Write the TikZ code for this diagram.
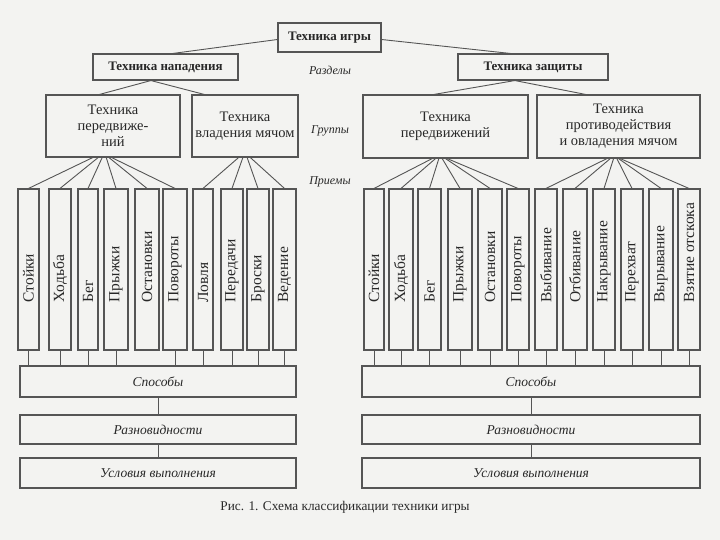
\documentclass[tikz,border=0pt]{standalone}
\usepackage{fontspec}
\setmainfont{Liberation Serif}
\usetikzlibrary{calc}
\definecolor{linec}{RGB}{85,85,85}
\definecolor{textc}{RGB}{40,40,40}
\definecolor{bgc}{RGB}{243,243,241}
\tikzset{
  box/.style={draw=linec, line width=1.1pt, inner sep=0pt, align=center, text=textc, font=\fontsize{14.5}{16}\selectfont},
  bbox/.style={box, font=\bfseries\fontsize{13}{15}\selectfont},
  ibox/.style={box, font=\itshape\fontsize{13.5}{15}\selectfont},
  vbox/.style={draw=linec, line width=1.1pt, inner sep=0pt},
  vlab/.style={rotate=90, anchor=west, inner sep=0pt, text=textc, font=\fontsize{15.5}{17}\selectfont},
  lnk/.style={draw=linec, line width=0.9pt},
  sect/.style={font=\itshape\fontsize{12}{14}\selectfont, text=textc},
}
\begin{document}
\begin{tikzpicture}[x=1pt,y=-1pt]
\fill[bgc] (0,0) rectangle (720,540);
\useasboundingbox (0,0) rectangle (720,540);

% level 0 / 1
\node[bbox, minimum width=103pt, minimum height=29pt] (top) at (329.5,37.5) {Техника игры};
\node[bbox, minimum width=145pt, minimum height=26pt] (nap) at (165.5,67) {Техника нападения};
\node[bbox, minimum width=150pt, minimum height=26pt] (zas) at (533,67) {Техника защиты};
\node[sect] (razd) at (330,70) {Разделы};

% groups
\node[box, minimum width=134pt, minimum height=62pt] (L1) at (113,126) {Техника\\передвиже-\\ний};
\node[box, minimum width=106pt, minimum height=62pt] (L2) at (245,126) {Техника\\владения мячом};
\node[box, minimum width=165pt, minimum height=63pt] (R1) at (445.5,126.5) {Техника\\передвижений};
\node[box, minimum width=163pt, minimum height=63pt] (R2) at (618.5,126.5) {Техника\\противодействия\\и овладения мячом};
\node[sect] (grp) at (330,131) {Группы};
\node[sect] (prm) at (330,182) {Приемы};

% vertical boxes
\foreach \n/\a/\b/\t in {1/18/39/Стойки, 2/49/71/Ходьба, 3/78/98/Бег, 4/104/128/Прыжки, 5/135/159/Остановки, 6/163/187/Повороты, 7/193/213/Ловля, 8/221/243/Передачи, 9/247/269/Броски, 10/273/296/Ведение}{
  \node[vbox, minimum width={(\b-\a)*1pt}, minimum height=161pt] (l\n) at ({(\a+\b)/2},269.5) {};
  \node[vlab] at ($(l\n.south)+(0,-48)$) {\t};
}
\foreach \n/\a/\b/\t in {1/364/384/Стойки, 2/389/413/Ходьба, 3/418/441/Бег, 4/448/472/Прыжки, 5/478/502/Остановки, 6/507/529/Повороты, 7/535/557/Выбивание, 8/563/587/Отбивание, 9/593/615/Накрывание, 10/621/643/Перехват, 11/649/673/Вырывание, 12/678/700/Взятие отскока}{
  \node[vbox, minimum width={(\b-\a)*1pt}, minimum height=161pt] (r\n) at ({(\a+\b)/2},269.5) {};
  \node[vlab] at ($(r\n.south)+(0,-48)$) {\t};
}

% bottom boxes
\node[ibox, minimum width=276pt, minimum height=31pt] (lsp) at (158,381.5) {Способы};
\node[ibox, minimum width=276pt, minimum height=29pt] (lraz) at (158,429.5) {Разновидности};
\node[ibox, minimum width=276pt, minimum height=30pt] (lusl) at (158,473) {Условия выполнения};
\node[ibox, minimum width=338pt, minimum height=31pt] (rsp) at (531,381.5) {Способы};
\node[ibox, minimum width=338pt, minimum height=29pt] (rraz) at (531,429.5) {Разновидности};
\node[ibox, minimum width=338pt, minimum height=30pt] (rusl) at (531,473) {Условия выполнения};

\node[text=textc, font=\fontsize{13.3}{15}\selectfont] (cap) at (345,507) {Рис. 1. Схема классификации техники игры};

% connectors top
\draw[lnk] ($(top.west)+(0,2)$) -- ($(nap.north west)!0.55!(nap.north east)$);
\draw[lnk] ($(top.east)+(0,2)$) -- ($(zas.north west)!0.35!(zas.north east)$);
\draw[lnk] ($(nap.south west)!0.4!(nap.south east)$) -- ($(L1.north west)!0.4!(L1.north east)$);
\draw[lnk] ($(nap.south west)!0.4!(nap.south east)$) -- ($(L2.north west)!0.12!(L2.north east)$);
\draw[lnk] ($(zas.south west)!0.38!(zas.south east)$) -- ($(R1.north west)!0.43!(R1.north east)$);
\draw[lnk] ($(zas.south west)!0.38!(zas.south east)$) -- ($(R2.north west)!0.3!(R2.north east)$);

% fans
\foreach \n/\f in {1/0.35,2/0.39,3/0.42,4/0.45,5/0.47,6/0.49}
  \draw[lnk] ($(L1.south west)!\f!(L1.south east)$) -- (l\n.north);
\foreach \n/\f in {7/0.44,8/0.48,9/0.52,10/0.55}
  \draw[lnk] ($(L2.south west)!\f!(L2.south east)$) -- (l\n.north);
\foreach \n/\f in {1/0.42,2/0.44,3/0.46,4/0.48,5/0.50,6/0.51}
  \draw[lnk] ($(R1.south west)!\f!(R1.south east)$) -- (r\n.north);
\foreach \n/\f in {7/0.43,8/0.45,9/0.47,10/0.49,11/0.50,12/0.51}
  \draw[lnk] ($(R2.south west)!\f!(R2.south east)$) -- (r\n.north);

% bottom stubs
\foreach \n in {1,2,3,4,6,7,8,9,10}
  \draw[lnk] (l\n.south) -- (l\n.south |- lsp.north);
\foreach \n in {1,...,12}
  \draw[lnk] (r\n.south) -- (r\n.south |- rsp.north);
\draw[lnk] (lsp.south) -- (lraz.north);
\draw[lnk] (lraz.south) -- (lusl.north);
\draw[lnk] (rsp.south) -- (rraz.north);
\draw[lnk] (rraz.south) -- (rusl.north);
\end{tikzpicture}
\end{document}
